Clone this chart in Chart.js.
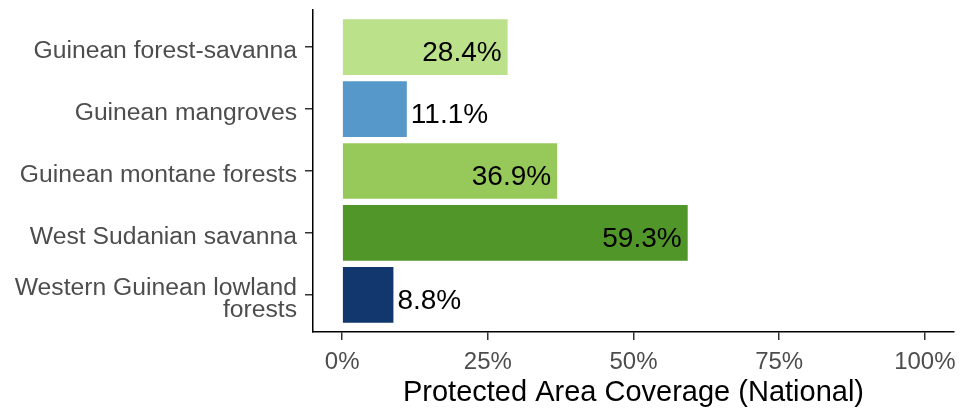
<!DOCTYPE html>
<html>
<head>
<meta charset="utf-8">
<script src="https://cdn.jsdelivr.net/npm/chart.js@4.4.1/dist/chart.umd.min.js"></script>
<style>
  body { margin: 0; background: #fff; }
  canvas { display: block; }
</style>
</head>
<body>
<canvas id="myChart" width="960" height="410"></canvas>
<script>
// ecoregions, top to bottom
var ecoregions = [
    "Guinean forest-savanna",
    "Guinean mangroves",
    "Guinean montane forests",
    "West Sudanian savanna",
    "Western Guinean lowland\nforests"
];
var coverage = [28.4, 11.1, 36.9, 59.3, 8.8];
var barColors = ["#bbe18b", "#5698c9", "#96c85a", "#509628", "#12376e"];
var xTicks = [0, 25, 50, 75, 100];

var points = [];
for (var i = 0; i < coverage.length; i++) {
    points.push({ x: coverage[i], y: i });
}

// percent labels, inside the bar if it is long enough
var barLabels = {
    id: 'barLabels',
    afterDatasetsDraw: function (chart) {
        var ctx = chart.ctx;
        var meta = chart.getDatasetMeta(0);
        ctx.save();
        ctx.font = '28px "Liberation Sans", Arial, sans-serif';
        ctx.fillStyle = '#000';
        ctx.textBaseline = 'alphabetic';
        meta.data.forEach(function (bar, i) {
            var v = coverage[i];
            var txt = v.toFixed(1) + '%';
            if (v >= 20) {
                ctx.textAlign = 'right';
                ctx.fillText(txt, bar.x - 6, bar.y + 14);
            } else {
                ctx.textAlign = 'left';
                ctx.fillText(txt, bar.x + 4, bar.y + 14);
            }
        });
        ctx.restore();
    }
};

const ctx = document.getElementById('myChart');

var c = new Chart(ctx, {
    type: 'bar',
    data: {
        datasets: [{
            data: points,
            backgroundColor: barColors,
            borderWidth: 0,
            barPercentage: 0.9,
            categoryPercentage: 1.0
        }]
    },
    plugins: [barLabels],
    options: {
        indexAxis: 'y',
        responsive: false,
        animation: false,
        layout: { padding: { top: 10, right: 6, left: 0, bottom: 0 } },
        plugins: {
            legend: { display: false },
            tooltip: { enabled: false }
        },
        scales: {
            x: {
                type: 'linear',
                min: -5,
                max: 105,
                afterBuildTicks: function (scale) {
                    scale.ticks = xTicks.map(function (v) { return { value: v }; });
                },
                afterFit: function (scale) {
                    scale.height = 78;
                    scale.paddingLeft = 0;
                    scale.paddingRight = 0;
                },
                border: { display: true, color: '#000', width: 1.5 },
                grid: { drawOnChartArea: false, drawTicks: true, tickLength: 8, color: '#333', lineWidth: 1.5 },
                ticks: {
                    padding: 8,
                    color: '#4d4d4d',
                    font: { family: '"Liberation Sans", Arial, sans-serif', size: 24 },
                    maxRotation: 0,
                    callback: function (value) { return value + '%'; }
                },
                title: {
                    display: true,
                    text: 'Protected Area Coverage (National)',
                    color: '#000',
                    font: { family: '"Liberation Sans", Arial, sans-serif', size: 29 },
                    padding: { top: 0, bottom: 0 }
                }
            },
            y: {
                type: 'linear',
                min: -0.6,
                max: 4.6,
                reverse: true,
                offset: false,
                afterBuildTicks: function (scale) {
                    scale.ticks = ecoregions.map(function (e, i) { return { value: i }; });
                },
                afterFit: function (scale) {
                    scale.width = 313;
                    scale.paddingTop = 0;
                    scale.paddingBottom = 0;
                },
                border: { display: true, color: '#000', width: 1.5 },
                grid: { offset: false, drawOnChartArea: false, drawTicks: true, tickLength: 8, color: '#333', lineWidth: 1.5 },
                ticks: {
                    padding: 8,
                    labelOffset: 4,
                    color: '#4d4d4d',
                    font: { family: '"Liberation Sans", Arial, sans-serif', size: 24.7, lineHeight: 0.9 },
                    callback: function (value) {
                        var lab = ecoregions[value];
                        return lab ? lab.split('\n') : '';
                    }
                }
            }
        }
    }
});
</script>
</body>
</html>
